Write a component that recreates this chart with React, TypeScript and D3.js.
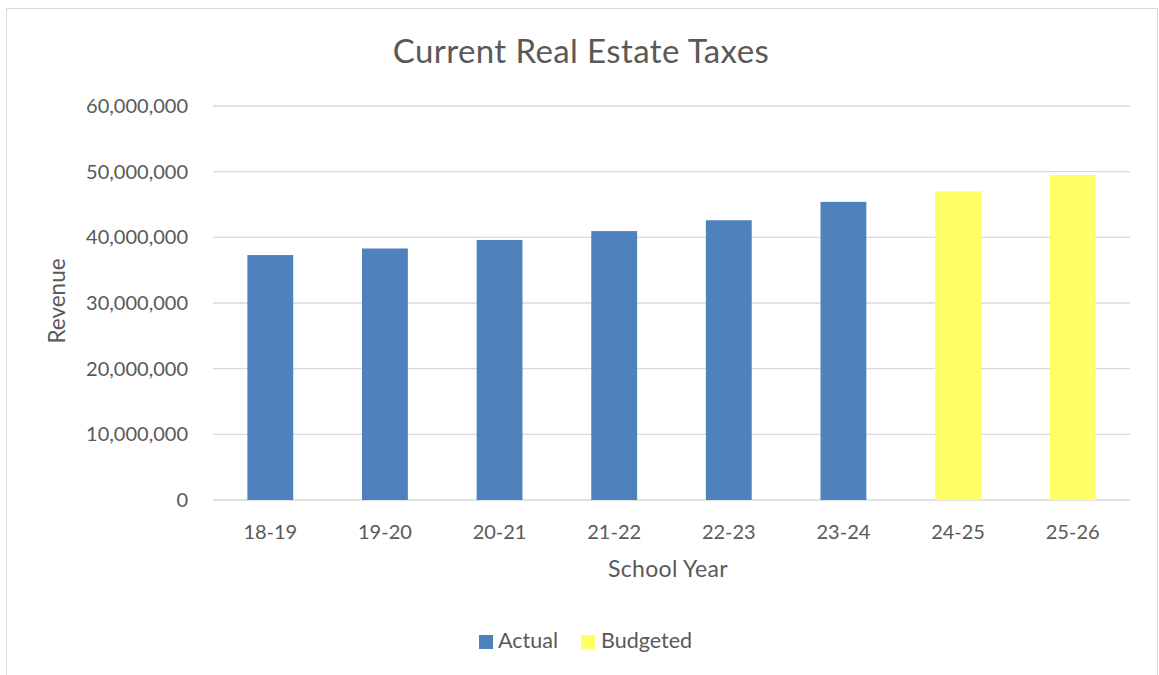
import React from "react";
import * as d3 from "d3";

const categories = ["18-19", "19-20", "20-21", "21-22", "22-23", "23-24", "24-25", "25-26"];
const actualValues = [37300000, 38300000, 39600000, 40950000, 42600000, 45400000, null, null];
const budgetedValues = [null, null, null, null, null, null, 47000000, 49500000];
const yTicks = [0, 10000000, 20000000, 30000000, 40000000, 50000000, 60000000];

const W = 1159, H = 675;
const plot = { left: 213, right: 1130, top: 106, bottom: 500 };
const FONT = "Lato, 'Open Sans', sans-serif";
const TXT = "#595959";

export default function App() {
  const x = d3.scaleBand().domain(categories).range([plot.left, plot.right]).paddingInner(0.6).paddingOuter(0.3);
  const y = d3.scaleLinear().domain([0, 60000000]).range([plot.bottom, plot.top]);
  const fmt = d3.format(",");
  const series = [
    { name: "Actual", values: actualValues, color: "#4F81BD" },
    { name: "Budgeted", values: budgetedValues, color: "#FFFF66" },
  ];
  return (
    <svg width={W} height={H} style={{ position: "absolute", left: 0, top: 0 }}>
      <rect x={0} y={0} width={W} height={H} fill="#fff" />
      <rect x={6.5} y={8.5} width={1151} height={700} fill="#fff" stroke="#d9d9d9" strokeWidth={1} />
      <text x={581} y={51} dy="0.35em" textAnchor="middle" fontFamily={FONT} fontSize={33} letterSpacing={0.4} fill={TXT}>Current Real Estate Taxes</text>
      {yTicks.map((t) => (
        <g key={t}>
          <line x1={plot.left} x2={plot.right} y1={y(t)} y2={y(t)} stroke="#d9d9d9" strokeWidth={1.3} />
          <text x={188} y={y(t)} dy="0.35em" textAnchor="end" fontFamily={FONT} fontSize={20} fill={TXT}>{fmt(t)}</text>
        </g>
      ))}
      {series.map((s) =>
        s.values.map((v, i) =>
          v == null ? null : (
            <rect key={s.name + i} x={x(categories[i])} y={y(v)} width={x.bandwidth()} height={y(0) - y(v)} fill={s.color} />
          )
        )
      )}
      {categories.map((c) => (
        <text key={c} x={(x(c) as number) + x.bandwidth() / 2} y={532} dy="0.35em" textAnchor="middle" fontFamily={FONT} fontSize={20} fill={TXT}>{c}</text>
      ))}
      <text x={668} y={569} dy="0.35em" textAnchor="middle" fontFamily={FONT} fontSize={23} letterSpacing={0.3} fill={TXT}>School Year</text>
      <text transform={`translate(57,301) rotate(-90)`} dy="0.35em" textAnchor="middle" fontFamily={FONT} fontSize={22.5} fill={TXT}>Revenue</text>
      <rect x={479} y={635} width={14} height={14} fill="#4F81BD" />
      <text x={498} y={640} dy="0.35em" fontFamily={FONT} fontSize={21.5} fill={TXT}>Actual</text>
      <rect x={581} y={635} width={14} height={14} fill="#FFFF66" />
      <text x={601} y={640} dy="0.35em" fontFamily={FONT} fontSize={21.5} fill={TXT}>Budgeted</text>
    </svg>
  );
}
